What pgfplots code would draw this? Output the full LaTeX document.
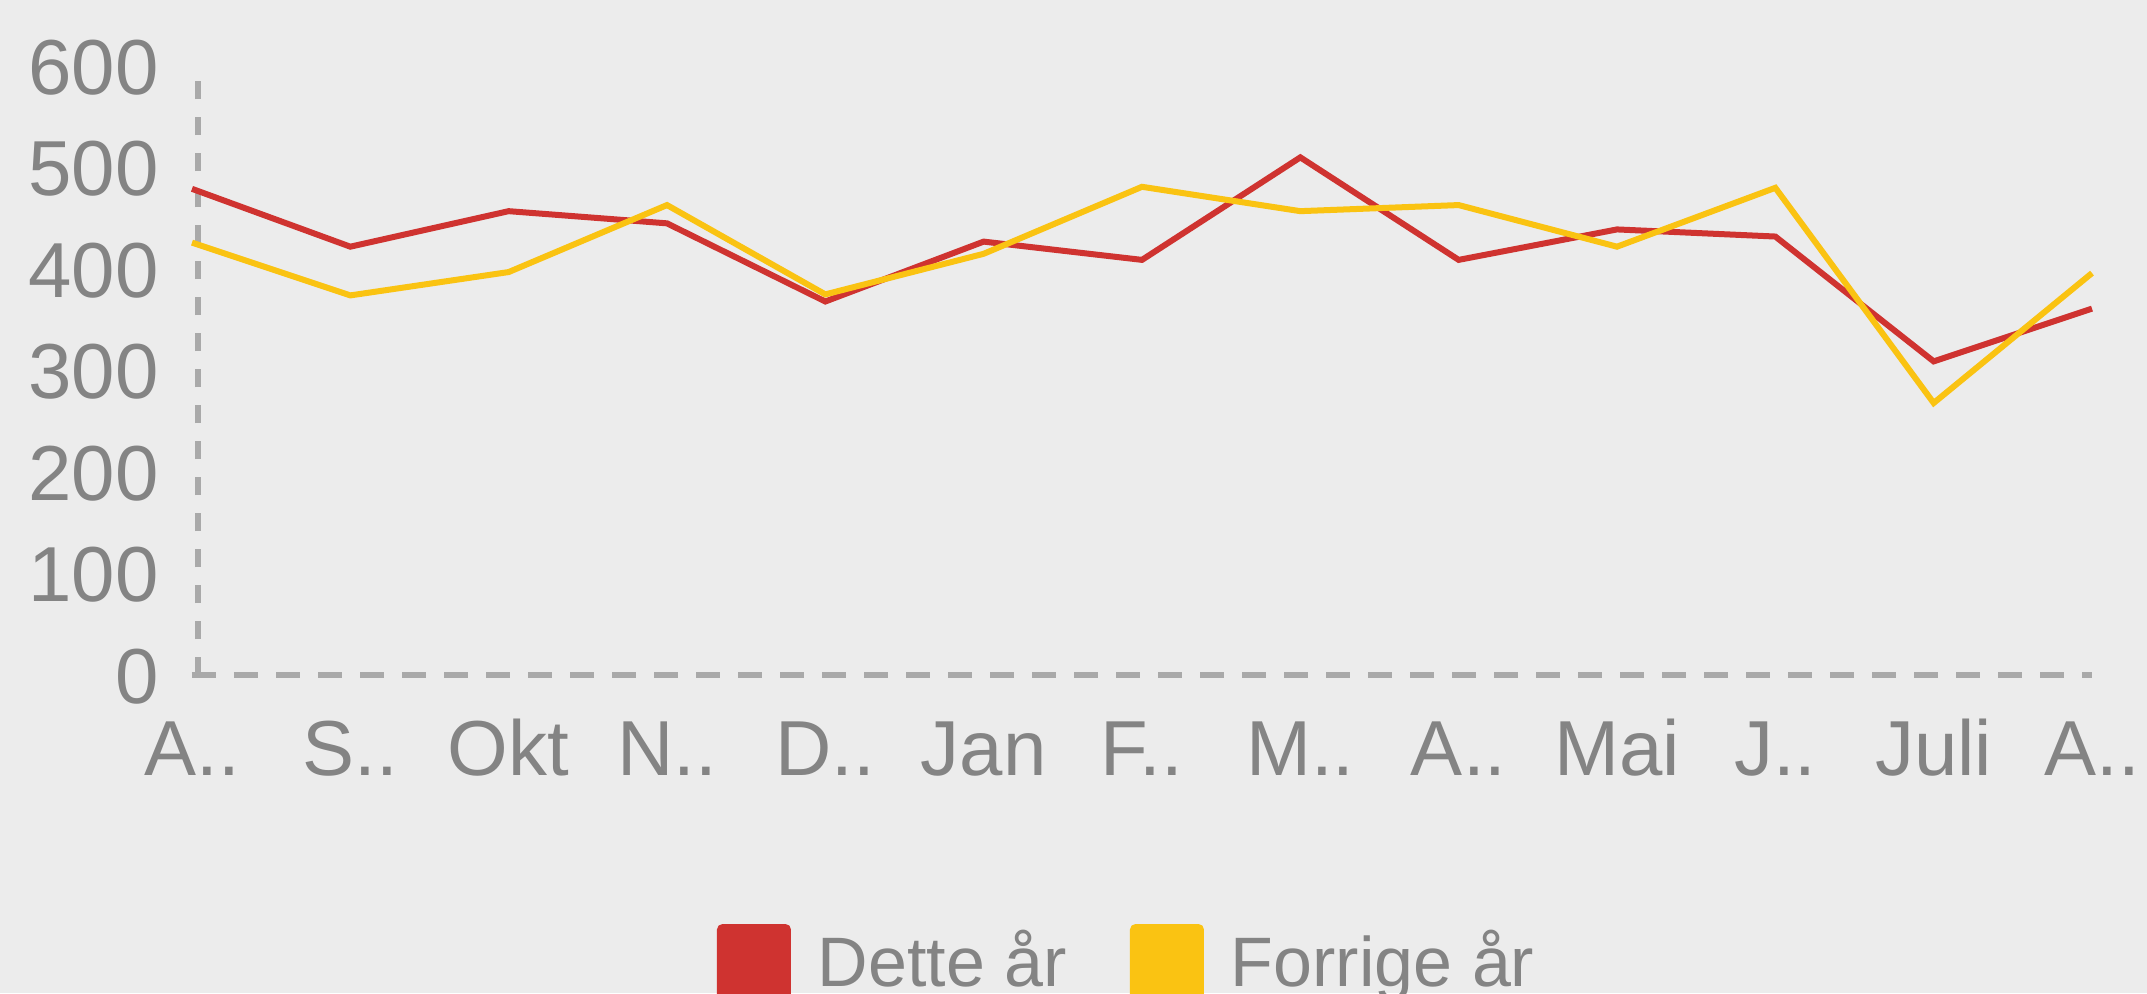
\documentclass[border=0pt]{standalone}
\usepackage{fontspec}
\setmainfont{Liberation Sans}
\usepackage{pgfplots}
\pgfplotsset{compat=1.18}
\definecolor{bgcol}{HTML}{ECECEC}
\definecolor{txtgray}{HTML}{848484}
\definecolor{axgray}{HTML}{A9A9A9}
\definecolor{redline}{HTML}{CF3330}
\definecolor{yelline}{HTML}{FAC312}
\begin{document}
\begin{tikzpicture}
\path[use as bounding box, fill=bgcol] (-96pt,-159pt) rectangle (977.5pt,337.5pt);
\begin{axis}[
  at={(0pt,0pt)}, anchor=south west,
  scale only axis, width=950pt, height=304.5pt,
  xmin=0, xmax=12, ymin=0, ymax=600,
  clip=false,
  axis x line*=bottom, axis y line*=left,
  x axis line style={-, draw=axgray, line width=3pt, dash pattern=on 12pt off 9pt},
  y axis line style={-, draw=axgray, line width=3pt, dash pattern=on 9pt off 9pt, xshift=3.25pt},
  major tick length=0pt,
  xtick={0,...,12},
  xticklabels={A..,S..,Okt,N..,D..,Jan,F..,M..,A..,Mai,J..,Juli,A..},
  ytick={0,100,...,600},
  /pgf/number format/assume math mode=true,
  tick label style={font=\fontsize{39}{47}\selectfont, text=txtgray, inner sep=0pt},
  xticklabel style={anchor=base, yshift=-50pt},
  yticklabel style={anchor=base east, xshift=-16.5pt, yshift=-14pt},
  legend style={draw=none, fill=none, inner sep=0pt, outer sep=0pt,
    at={(0.2763,-0.4089)}, anchor=north west, legend columns=2,
    font=\fontsize{35}{42}\selectfont, text=txtgray,
    cells={anchor=base west},
    /tikz/every odd column/.style={column sep=13.5pt},
    /tikz/every even column/.style={column sep=31.5pt},
    nodes={inner sep=0pt}},
  legend image code/.code={\fill[#1, rounded corners=1.5pt] (0pt,-25pt) rectangle (34pt,29.5pt);},
]
\addplot[color=redline, line width=3pt] coordinates {
(0,479) (1,422) (2,457) (3,445) (4,368) (5,427) (6,409) (7,510) (8,409) (9,439) (10,432) (11,309) (12,361)};
\addplot[color=yelline, line width=3pt] coordinates {
(0,426) (1,374) (2,397) (3,463) (4,375) (5,415) (6,481) (7,457) (8,463) (9,422) (10,480) (11,268) (12,396)};
\legend{Dette år, Forrige år}
\end{axis}
\end{tikzpicture}
\end{document}
